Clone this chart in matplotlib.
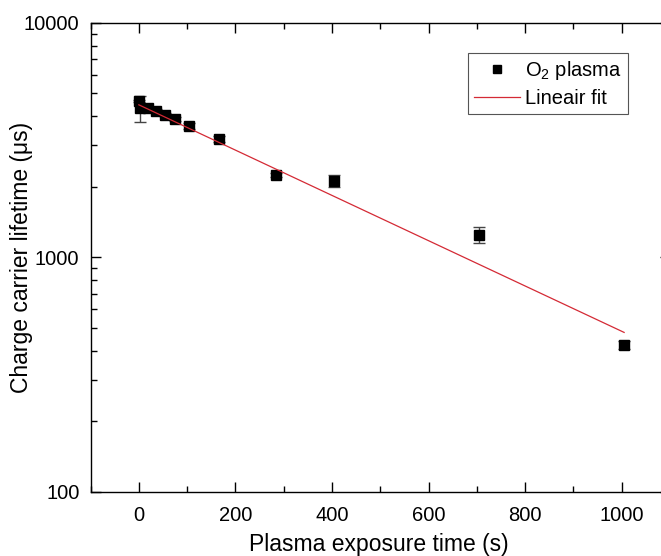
import numpy as np
import matplotlib
matplotlib.use("Agg")
import matplotlib.pyplot as plt
from matplotlib.ticker import MultipleLocator, LogLocator, FixedLocator, NullFormatter

plt.rcParams['font.family'] = ['Liberation Sans', 'DejaVu Sans']
plt.rcParams['mathtext.fontset'] = 'custom'
plt.rcParams['mathtext.rm'] = 'Liberation Sans'
plt.rcParams['mathtext.it'] = 'Liberation Sans:italic'

# Data
exposure_time = [0, 3, 18, 36, 54, 75, 104, 165, 285, 405, 705, 1005]
lifetime = [4640, 4330, 4330, 4210, 4050, 3890, 3630, 3200, 2245, 2115, 1245, 423]
lifetime_err = [60, 550, 60, 60, 60, 60, 120, 90, 50, 130, 100, 18]

fit_time = [0, 1005]
fit_lifetime = [4470, 478]

x_ticks = [0, 200, 400, 600, 800, 1000]
y_ticks = [100, 1000, 10000]
y_ticklabels = ['100', '1000', '10000']

fig = plt.figure(figsize=(6.61, 5.56), dpi=100)
ax = fig.add_axes([0.137, 0.1157, 0.8766, 0.8432])

ax.errorbar(exposure_time, lifetime, yerr=lifetime_err, fmt='none',
            ecolor='#444444', elinewidth=1.0, capsize=4, capthick=1.0, zorder=2)
ax.plot(exposure_time, lifetime, 's', color='black', markersize=7.5,
        label='O$_2$ plasma', zorder=3)
ax.plot(fit_time, fit_lifetime, '-', color='#d42a35', linewidth=0.9,
        label='Lineair fit', zorder=4)

ax.set_yscale('log')
ax.set_xlim(-100, 1100)
ax.set_ylim(100, 10000)

ax.xaxis.set_major_locator(FixedLocator(x_ticks))
ax.xaxis.set_minor_locator(MultipleLocator(100))
ax.yaxis.set_major_locator(FixedLocator(y_ticks))
ax.set_yticklabels(y_ticklabels)
ax.yaxis.set_minor_locator(LogLocator(base=10, subs=np.arange(2, 10)))
ax.yaxis.set_minor_formatter(NullFormatter())

ax.tick_params(which='both', direction='in', top=True, right=True,
               labelsize=14.5, width=1.0, colors='black')
ax.tick_params(axis='x', which='major', length=7.5, pad=10)
ax.tick_params(axis='y', which='major', length=7.5, pad=8)
ax.tick_params(which='minor', length=4)
for s in ax.spines.values():
    s.set_linewidth(1.0)

ax.set_xlabel('Plasma exposure time (s)', fontsize=16.5)
ax.set_ylabel('Charge carrier lifetime (\u03bcs)', fontsize=16.5)
ax.xaxis.set_label_coords(0.498, -0.088)
ax.yaxis.set_label_coords(-0.100, 0.5)

leg = ax.legend(loc='upper right', bbox_to_anchor=(0.9275, 0.936),
                fontsize=14.5, frameon=True, fancybox=False, framealpha=1,
                edgecolor='#555555', handlelength=2.3, handletextpad=0.25,
                borderpad=0.3, labelspacing=0.35, markerscale=0.8,
                borderaxespad=0)
leg.get_frame().set_linewidth(0.8)

fig.savefig('out.png', dpi=100)
